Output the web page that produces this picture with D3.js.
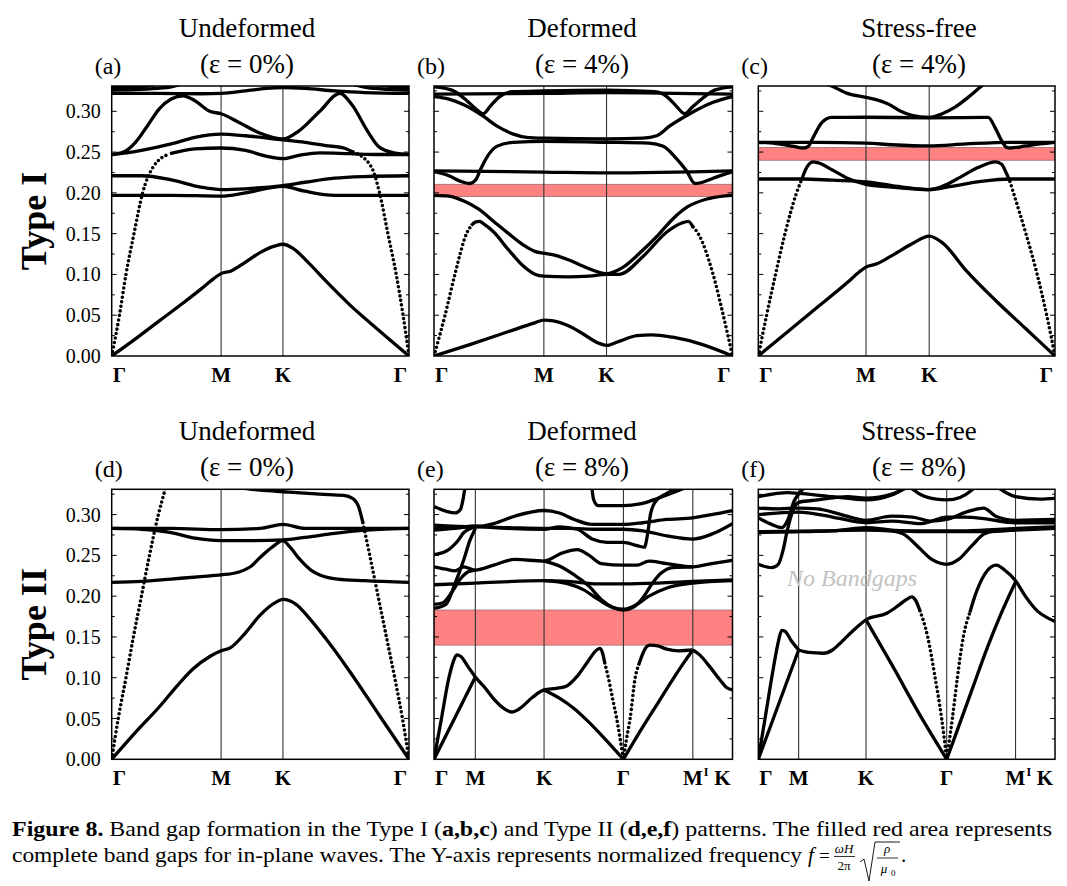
<!DOCTYPE html>
<html>
<head>
<meta charset="utf-8">
<script src="https://cdn.jsdelivr.net/npm/d3@7/dist/d3.min.js"></script>
<style>
  body { margin: 0; background: #fff; }
  text { font-family: "Liberation Serif", "DejaVu Serif", serif; fill: #000; }
</style>
</head>
<body>
<script>
// ---- labels ----
const titles = ['Undeformed', 'Deformed', 'Stress-free'];
const strainsTop = ['(ε = 0%)', '(ε = 4%)', '(ε = 4%)'];
const strainsBottom = ['(ε = 0%)', '(ε = 8%)', '(ε = 8%)'];
const letters = ['(a)', '(b)', '(c)', '(d)', '(e)', '(f)'];
const rowLabels = ['Type I', 'Type II'];
const yTicks = [0, 0.05, 0.10, 0.15, 0.20, 0.25, 0.30];
const yMinor = [0.025, 0.075, 0.125, 0.175, 0.225, 0.275, 0.325];

// k-path positions (fraction of the path) and their labels
const kA = [0, 0.368, 0.576, 1], kB = [0, 0.368, 0.578, 1], kC = [0, 0.363, 0.576, 1];
const kD = [0, 0.368, 0.576, 1];
const kE = [0, 0.1385, 0.3687, 0.6346, 0.867, 1];
const kF = [0, 0.136, 0.363, 0.635, 0.867, 1];
const kLabels3 = ['Γ', 'M', 'K', 'Γ'];
const kLabels5 = ['Γ', 'M', 'K', 'Γ', 'M′', 'K'];

// complete band gaps [low, high]
const gapB = [0.1955, 0.2105];
const gapC = [0.240, 0.2555];
const gapE = [0.140, 0.183];

// ---- bands, [k, f] ----
const bandsA = [
  [[0,0],[0.08,0.021],[0.16,0.043],[0.24,0.065],[0.3,0.082],[0.34,0.094],[0.368,0.101],[0.4,0.104],[0.45,0.115],[0.5,0.127],[0.55,0.135],[0.576,0.137],[0.61,0.132],[0.66,0.115],[0.72,0.092],[0.8,0.063],[0.9,0.031],[1,0]],
  [[0.196,0.248],[0.28,0.254],[0.368,0.255],[0.45,0.252],[0.52,0.245],[0.576,0.242],[0.63,0.246],[0.7,0.249],[0.8,0.248],[0.9,0.247],[1,0.247]],
  [[0,0.247],[0.05,0.249],[0.1,0.252],[0.2,0.26],[0.28,0.268],[0.368,0.272],[0.45,0.27],[0.576,0.265],[0.65,0.262],[0.72,0.258],[0.78,0.255],[0.812,0.25]],
  [[0,0.247],[0.04,0.25],[0.08,0.262],[0.12,0.282],[0.16,0.303],[0.2,0.315],[0.24,0.319],[0.28,0.313],[0.33,0.3],[0.368,0.297],[0.43,0.286],[0.5,0.273],[0.576,0.266],[0.63,0.276],[0.7,0.3],[0.767,0.322],[0.81,0.307],[0.86,0.276],[0.9,0.256],[0.95,0.249],[1,0.247]],
  [[0,0.221],[0.1,0.221],[0.2,0.216],[0.3,0.207],[0.368,0.204],[0.45,0.205],[0.576,0.209],[0.65,0.213],[0.75,0.218],[0.85,0.22],[1,0.221]],
  [[0,0.197],[0.2,0.197],[0.368,0.196],[0.45,0.2],[0.576,0.208],[0.65,0.202],[0.75,0.197],[1,0.197]],
  [[0,0.322],[0.15,0.322],[0.3,0.3215],[0.368,0.322],[0.45,0.325],[0.52,0.328],[0.576,0.329],[0.65,0.328],[0.75,0.325],[0.85,0.323],[1,0.322]],
  [[0,0.326],[0.08,0.3265],[0.15,0.328],[0.2,0.33],[0.24,0.334]],
  [[0.8,0.334],[0.86,0.329],[0.93,0.327],[1,0.326]],
  [[0,0.329],[0.1,0.33],[0.15,0.333]],
  [[0.88,0.333],[0.95,0.33],[1,0.329]]
];
const dotsA = [
  [[0,0],[0.026,0.05],[0.048,0.1],[0.075,0.15],[0.104,0.2],[0.14,0.232],[0.196,0.248]],
  [[0.812,0.25],[0.873,0.232],[0.901,0.2],[0.929,0.15],[0.957,0.1],[0.98,0.05],[1,0]]
];

const bandsB = [
  [[0,0],[0.12,0.014],[0.25,0.03],[0.34,0.041],[0.368,0.044],[0.4,0.043],[0.45,0.037],[0.5,0.027],[0.55,0.016],[0.578,0.013],[0.62,0.018],[0.68,0.025],[0.73,0.026],[0.8,0.023],[0.9,0.014],[1,0]],
  [[0.125,0.16],[0.14,0.1645],[0.152,0.165],[0.17,0.161],[0.2,0.152],[0.25,0.13],[0.3,0.11],[0.34,0.1],[0.368,0.098],[0.45,0.097],[0.52,0.098],[0.578,0.1],[0.62,0.1],[0.7,0.122],[0.78,0.152],[0.83,0.163],[0.852,0.165],[0.868,0.158]],
  [[0,0.197],[0.05,0.196],[0.1,0.19],[0.15,0.18],[0.2,0.165],[0.25,0.15],[0.3,0.136],[0.34,0.128],[0.368,0.126],[0.4,0.124],[0.45,0.118],[0.5,0.11],[0.578,0.101],[0.63,0.108],[0.7,0.13],[0.75,0.148],[0.8,0.168],[0.85,0.183],[0.92,0.193],[1,0.197]],
  [[0,0.227],[0.368,0.2255],[0.578,0.2245],[1,0.227]],
  [[0,0.226],[0.05,0.221],[0.09,0.214],[0.12,0.2115],[0.14,0.216],[0.155,0.228],[0.176,0.243],[0.21,0.257],[0.266,0.262],[0.368,0.263],[0.578,0.262],[0.72,0.261],[0.768,0.257],[0.81,0.243],[0.846,0.227],[0.874,0.2115],[0.9,0.213],[0.935,0.218],[1,0.226]],
  [[0,0.318],[0.05,0.315],[0.1,0.308],[0.165,0.294],[0.21,0.282],[0.266,0.272],[0.31,0.268],[0.368,0.267],[0.578,0.266],[0.7,0.267],[0.746,0.27],[0.79,0.282],[0.857,0.297],[0.935,0.311],[1,0.318]],
  [[0,0.33],[0.06,0.326],[0.11,0.313],[0.14,0.303],[0.165,0.297],[0.19,0.307],[0.22,0.318],[0.26,0.324],[0.368,0.325],[0.578,0.326],[0.74,0.324],[0.78,0.318],[0.81,0.307],[0.84,0.297],[0.865,0.305],[0.9,0.316],[0.94,0.326],[1,0.33]],
  [[0,0.321],[0.368,0.322],[0.578,0.323],[1,0.321]]
];
const dotsB = [
  [[0,0],[0.037,0.05],[0.07,0.1],[0.109,0.15],[0.125,0.16]],
  [[0.868,0.158],[0.885,0.15],[0.935,0.1],[0.969,0.05],[1,0]]
];

const bandsC = [
  [[0,0],[0.1,0.03],[0.2,0.06],[0.3,0.09],[0.34,0.103],[0.363,0.109],[0.4,0.113],[0.45,0.123],[0.52,0.138],[0.576,0.147],[0.62,0.139],[0.7,0.105],[0.8,0.068],[0.9,0.034],[1,0]],
  [[0.146,0.216],[0.16,0.229],[0.185,0.238],[0.2,0.237],[0.25,0.228],[0.3,0.218],[0.363,0.2105],[0.45,0.207],[0.52,0.205],[0.576,0.204],[0.62,0.208],[0.68,0.219],[0.74,0.231],[0.8,0.238],[0.82,0.235],[0.835,0.225],[0.848,0.214]],
  [[0,0.217],[0.15,0.217],[0.25,0.2155],[0.363,0.2135],[0.45,0.209],[0.52,0.2055],[0.576,0.204],[0.65,0.208],[0.75,0.214],[0.85,0.217],[1,0.217]],
  [[0,0.262],[0.2,0.262],[0.363,0.261],[0.45,0.259],[0.576,0.2575],[0.7,0.26],[0.85,0.262],[1,0.262]],
  [[0,0.262],[0.06,0.2605],[0.12,0.257],[0.152,0.255],[0.1685,0.257],[0.185,0.268],[0.214,0.286],[0.247,0.2925],[0.363,0.2927],[0.576,0.292],[0.775,0.2925],[0.798,0.28],[0.82,0.264],[0.837,0.2557],[0.85,0.255],[0.9,0.2575],[0.95,0.26],[1,0.262]],
  [[0.2,0.337],[0.247,0.331],[0.3,0.322],[0.363,0.317],[0.4,0.314],[0.438,0.309],[0.48,0.3],[0.517,0.295],[0.576,0.2925],[0.62,0.297],[0.663,0.305],[0.71,0.318],[0.753,0.331],[0.78,0.338]]
];
const dotsC = [
  [[0,0],[0.028,0.05],[0.058,0.1],[0.09,0.15],[0.129,0.2],[0.146,0.216]],
  [[0.848,0.214],[0.86,0.2],[0.902,0.15],[0.94,0.1],[0.972,0.05],[1,0]]
];

const bandsD = [
  [[0,0],[0.08,0.033],[0.162,0.065],[0.22,0.09],[0.274,0.111],[0.33,0.126],[0.368,0.133],[0.4,0.137],[0.45,0.155],[0.5,0.177],[0.55,0.192],[0.576,0.196],[0.62,0.19],[0.66,0.175],[0.72,0.148],[0.8,0.108],[0.9,0.054],[1,0]],
  [[0.4,0.334],[0.5,0.33],[0.576,0.328],[0.7,0.325],[0.78,0.3235],[0.81,0.32],[0.83,0.31],[0.845,0.29]],
  [[0,0.283],[0.2,0.283],[0.368,0.2815],[0.5,0.283],[0.576,0.288],[0.65,0.283],[0.8,0.283],[1,0.283]],
  [[0,0.283],[0.1,0.282],[0.2,0.278],[0.28,0.271],[0.368,0.268],[0.45,0.268],[0.576,0.269],[0.65,0.272],[0.75,0.277],[0.85,0.281],[0.9,0.282],[1,0.283]],
  [[0,0.217],[0.1,0.218],[0.2,0.221],[0.3,0.224],[0.368,0.226],[0.431,0.23],[0.47,0.237],[0.498,0.247],[0.543,0.261],[0.576,0.268],[0.6,0.26],[0.633,0.245],[0.67,0.232],[0.7,0.226],[0.76,0.221],[0.85,0.219],[1,0.217]]
];
const dotsD = [
  [[0,0],[0.022,0.05],[0.048,0.1],[0.073,0.15],[0.1,0.2],[0.127,0.25],[0.157,0.3],[0.179,0.33],[0.19,0.345]],
  [[0.845,0.29],[0.868,0.25],[0.896,0.2],[0.924,0.15],[0.952,0.1],[0.978,0.05],[1,0]]
];

const bandsE = [
  [[0,0],[0.025,0.05],[0.05,0.1],[0.065,0.12],[0.076,0.128],[0.09,0.126],[0.115,0.113],[0.1385,0.101],[0.17,0.088],[0.2,0.074],[0.235,0.062],[0.26,0.058],[0.29,0.063],[0.33,0.076],[0.3687,0.085],[0.41,0.087],[0.445,0.09],[0.48,0.102],[0.512,0.118],[0.545,0.134],[0.556,0.136],[0.565,0.13],[0.572,0.118]],
  [[0,0],[0.07,0.051],[0.1385,0.101]],
  [[0.3687,0.085],[0.42,0.075],[0.47,0.062],[0.512,0.048],[0.56,0.03],[0.6346,0]],
  [[0.6346,0],[0.7,0.04],[0.75,0.069],[0.8,0.098],[0.84,0.12],[0.867,0.134]],
  [[0.685,0.115],[0.7,0.13],[0.712,0.138],[0.724,0.14],[0.75,0.139],[0.78,0.135],[0.82,0.133],[0.867,0.134]],
  [[0.867,0.134],[0.89,0.128],[0.925,0.113],[0.959,0.097],[0.98,0.088],[1,0.085]],
  [[0,0.31],[0.042,0.304],[0.07,0.302],[0.088,0.306],[0.097,0.318],[0.104,0.334]],
  [[0,0.287],[0.1385,0.285],[0.2,0.289],[0.27,0.298],[0.3687,0.305],[0.42,0.302],[0.47,0.294],[0.53,0.288],[0.6346,0.288],[0.7,0.29],[0.78,0.294],[0.867,0.296],[0.93,0.3],[1,0.305]],
  [[0,0.283],[0.1385,0.285],[0.25,0.284],[0.3687,0.283],[0.45,0.283],[0.55,0.282],[0.6346,0.282],[0.7,0.28],[0.78,0.274],[0.867,0.27],[0.93,0.276],[1,0.289]],
  [[0,0.281],[0.07,0.283],[0.1385,0.286],[0.2,0.284],[0.3687,0.282],[0.42,0.285],[0.48,0.282],[0.53,0.27],[0.58,0.266],[0.6346,0.266],[0.68,0.262],[0.705,0.26],[0.715,0.275],[0.725,0.3],[0.74,0.315],[0.78,0.326],[0.83,0.334]],
  [[0.528,0.336],[0.535,0.318],[0.55,0.311],[0.6346,0.311],[0.69,0.313],[0.75,0.32],[0.836,0.332]],
  [[0,0.236],[0.04,0.233],[0.07,0.231],[0.1,0.236],[0.1385,0.232],[0.2,0.238],[0.27,0.245],[0.3687,0.243],[0.43,0.253],[0.48,0.257],[0.52,0.25],[0.56,0.24],[0.6346,0.238],[0.68,0.238],[0.72,0.243],[0.78,0.24],[0.867,0.236],[0.93,0.24],[1,0.244]],
  [[0.3687,0.243],[0.42,0.237],[0.47,0.226],[0.52,0.212],[0.56,0.196],[0.6,0.186],[0.6346,0.183],[0.67,0.187],[0.7,0.198],[0.73,0.215],[0.76,0.228],[0.8,0.235],[0.867,0.236]],
  [[0,0.214],[0.1385,0.216],[0.3687,0.219],[0.45,0.218],[0.55,0.215],[0.6346,0.215],[0.75,0.216],[0.867,0.218],[1,0.22]],
  [[0.3687,0.219],[0.45,0.215],[0.5,0.208],[0.55,0.196],[0.6,0.186],[0.6346,0.184],[0.67,0.188],[0.72,0.2],[0.78,0.21],[0.867,0.216],[1,0.219]],
  [[0,0.19],[0.03,0.192],[0.06,0.205],[0.09,0.222],[0.115,0.23],[0.1385,0.232]],
  [[0,0.185],[0.04,0.19],[0.07,0.215],[0.1,0.245],[0.12,0.268],[0.1385,0.283]],
  [[0,0.251],[0.04,0.255],[0.08,0.268],[0.1,0.278],[0.1385,0.285]]
];
const dotsE = [
  [[0.572,0.118],[0.584,0.1],[0.598,0.075],[0.612,0.05],[0.625,0.022],[0.6346,0]],
  [[0.6346,0],[0.645,0.025],[0.657,0.05],[0.674,0.1],[0.685,0.115]]
];

const bandsF = [
  [[0,0],[0.025,0.055],[0.05,0.11],[0.068,0.145],[0.079,0.158],[0.09,0.157],[0.11,0.146],[0.136,0.134]],
  [[0,0],[0.07,0.069],[0.136,0.134]],
  [[0.136,0.134],[0.17,0.131],[0.219,0.13],[0.25,0.134],[0.275,0.142],[0.32,0.158],[0.363,0.171],[0.433,0.179],[0.47,0.188],[0.5,0.196],[0.517,0.199],[0.53,0.195],[0.545,0.182]],
  [[0.363,0.171],[0.45,0.116],[0.55,0.051],[0.635,0]],
  [[0.635,0],[0.68,0.045],[0.725,0.09],[0.77,0.135],[0.82,0.18],[0.867,0.2175]],
  [[0.713,0.18],[0.73,0.2],[0.76,0.225],[0.785,0.236],[0.803,0.238],[0.83,0.232],[0.867,0.219],[0.9,0.2],[0.94,0.182],[0.972,0.174],[1,0.169]],
  [[0,0.278],[0.136,0.279],[0.25,0.28],[0.363,0.284],[0.45,0.281],[0.55,0.279],[0.635,0.279],[0.75,0.279],[0.867,0.281],[1,0.283]],
  [[0,0.279],[0.2,0.28],[0.363,0.281],[0.5,0.28],[0.7,0.28],[0.867,0.283],[1,0.285]],
  [[0.4,0.281],[0.45,0.28],[0.49,0.276],[0.54,0.26],[0.585,0.245],[0.635,0.239],[0.675,0.245],[0.72,0.262],[0.76,0.276],[0.8,0.28],[0.867,0.281]],
  [[0,0.239],[0.045,0.235],[0.067,0.239],[0.084,0.257],[0.096,0.278],[0.107,0.294],[0.12,0.308],[0.136,0.315],[0.2,0.318],[0.3,0.322],[0.363,0.32],[0.45,0.325],[0.5,0.333]],
  [[0,0.296],[0.045,0.288],[0.079,0.284],[0.1,0.294],[0.12,0.316],[0.14,0.327],[0.16,0.335]],
  [[0,0.308],[0.07,0.307],[0.136,0.308],[0.2,0.307],[0.28,0.3],[0.363,0.293],[0.45,0.298],[0.52,0.297],[0.58,0.292],[0.635,0.294],[0.7,0.303],[0.76,0.308],[0.8,0.298],[0.867,0.293],[1,0.294]],
  [[0,0.3],[0.136,0.303],[0.25,0.297],[0.363,0.29],[0.45,0.292],[0.55,0.289],[0.635,0.297],[0.7,0.297],[0.76,0.295],[0.867,0.29],[1,0.29]],
  [[0,0.322],[0.1,0.327],[0.136,0.326],[0.25,0.322],[0.363,0.318],[0.45,0.324],[0.5,0.334]],
  [[0.5,0.337],[0.55,0.324],[0.6,0.319],[0.635,0.318],[0.68,0.321],[0.72,0.33],[0.74,0.337]],
  [[0.8,0.335],[0.867,0.322],[0.95,0.319],[1,0.32]]
];
const dotsF = [
  [[0.545,0.182],[0.571,0.15],[0.596,0.1],[0.618,0.05],[0.635,0]],
  [[0.635,0],[0.654,0.05],[0.671,0.1],[0.691,0.15],[0.713,0.18]]
];

// ---- layout ----
const W = 1067, H = 886;
const cols = [[111.7, 409], [434, 732.5], [758.3, 1055]];
const rowBottom = [356, 759.3];
const plotH = 270;

const svg = d3.select('body').append('svg').attr('width', W).attr('height', H);

const panels = [
  { col: 0, row: 0, k: kA, labels: kLabels3, bands: bandsA, dots: dotsA, gap: null },
  { col: 1, row: 0, k: kB, labels: kLabels3, bands: bandsB, dots: dotsB, gap: gapB },
  { col: 2, row: 0, k: kC, labels: kLabels3, bands: bandsC, dots: dotsC, gap: gapC },
  { col: 0, row: 1, k: kD, labels: kLabels3, bands: bandsD, dots: dotsD, gap: null },
  { col: 1, row: 1, k: kE, labels: kLabels5, bands: bandsE, dots: dotsE, gap: gapE },
  { col: 2, row: 1, k: kF, labels: kLabels5, bands: bandsF, dots: dotsF, gap: null }
];

panels.forEach((p, i) => {
  const [x0, x1] = cols[p.col];
  const yb = rowBottom[p.row];
  const x = d3.scaleLinear().domain([0, 1]).range([x0, x1]);
  const y = d3.scaleLinear().domain([0, 0.331]).range([yb, yb - plotH]);

  const g = svg.append('g');
  const clipId = 'clip' + i;
  g.append('clipPath').attr('id', clipId)
    .append('rect').attr('x', x0).attr('y', yb - plotH).attr('width', x1 - x0).attr('height', plotH);
  const inner = g.append('g').attr('clip-path', `url(#${clipId})`);

  // band gap
  if (p.gap) {
    inner.append('rect')
      .attr('x', x0).attr('width', x1 - x0)
      .attr('y', y(p.gap[1])).attr('height', y(p.gap[0]) - y(p.gap[1]))
      .attr('fill', '#ff8282').attr('stroke', '#9a6a6a').attr('stroke-width', 0.8);
  }

  // high-symmetry lines
  inner.selectAll('line.k').data(p.k.slice(1, -1)).enter().append('line')
    .attr('x1', (d) => x(d)).attr('x2', (d) => x(d))
    .attr('y1', yb).attr('y2', yb - plotH)
    .attr('stroke', '#333').attr('stroke-width', 1.1);

  const line = d3.line()
    .x((d) => x(d[0]))
    .y((d) => y(d[1]))
    .curve(d3.curveMonotoneX);

  inner.selectAll('path.band').data(p.bands).enter().append('path')
    .attr('class', 'band')
    .attr('d', line)
    .attr('fill', 'none').attr('stroke', '#000')
    .attr('stroke-width', 3.3).attr('stroke-linejoin', 'round');

  inner.selectAll('path.dots').data(p.dots).enter().append('path')
    .attr('class', 'dots')
    .attr('d', line)
    .attr('fill', 'none').attr('stroke', '#000')
    .attr('stroke-width', 3.6).attr('stroke-linecap', 'round')
    .attr('stroke-dasharray', '0 4.6');

  // frame
  g.append('rect').attr('x', x0).attr('y', yb - plotH)
    .attr('width', x1 - x0).attr('height', plotH)
    .attr('fill', 'none').attr('stroke', '#000').attr('stroke-width', 1.5);

  // inward ticks, both sides
  const tick = (vals, len) => {
    g.selectAll(null).data(vals).enter().append('line')
      .attr('x1', x0).attr('x2', x0 + len)
      .attr('y1', (d) => y(d)).attr('y2', (d) => y(d))
      .attr('stroke', '#000').attr('stroke-width', 1);
    g.selectAll(null).data(vals).enter().append('line')
      .attr('x1', x1).attr('x2', x1 - len)
      .attr('y1', (d) => y(d)).attr('y2', (d) => y(d))
      .attr('stroke', '#000').attr('stroke-width', 1);
  };
  tick(yTicks.slice(1), 5);
  tick(yMinor, 3);

  if (p.col === 0) {
    g.selectAll('text.yt').data(yTicks).enter().append('text')
      .attr('x', x0 - 11).attr('y', (d) => y(d)).attr('dy', '0.35em')
      .attr('text-anchor', 'end').attr('font-size', 20)
      .text((d) => d.toFixed(2));
  }

  // k-point labels
  p.k.forEach((kv, j) => {
    const last = j === p.k.length - 1;
    const lx = j === 0 ? x0 + 1 : last ? x1 - 2 : x(kv);
    const anchor = j === 0 ? 'start' : last ? 'end' : 'middle';
    const lab = p.labels[j];
    const ty = yb + 26;
    if (lab.endsWith('′')) {
      g.append('text').attr('x', lx).attr('y', ty).attr('text-anchor', 'middle')
        .attr('font-size', 21).attr('font-weight', 'bold').text(lab[0]);
      g.append('text').attr('x', lx + 11).attr('y', ty - 9).attr('text-anchor', 'start')
        .attr('font-size', 12).attr('font-weight', 'bold').text('I');
    } else {
      g.append('text').attr('x', lx).attr('y', ty).attr('text-anchor', anchor)
        .attr('font-size', 21).attr('font-weight', 'bold').text(lab);
    }
  });

  // panel letter
  g.append('text').attr('x', x0 - 17).attr('y', yb - plotH - 12)
    .attr('font-size', 24).text(letters[i]);

  if (i === 5) {
    g.append('text').attr('x', x(0.097)).attr('y', y(0.212))
      .attr('font-size', 24).attr('font-style', 'italic').style('fill', '#c2c2c2')
      .text('No Bandgaps');
  }
});

// column titles
const titleX = [247, 582, 919];
[0, 1].forEach((r) => {
  const top = rowBottom[r] - plotH;
  const strains = r === 0 ? strainsTop : strainsBottom;
  titles.forEach((t, c) => {
    svg.append('text').attr('x', titleX[c]).attr('y', top - 49)
      .attr('text-anchor', 'middle').attr('font-size', 27).text(t);
    svg.append('text').attr('x', titleX[c]).attr('y', top - 13)
      .attr('text-anchor', 'middle').attr('font-size', 27).text(strains[c]);
  });
  svg.append('text')
    .attr('transform', `translate(46, ${rowBottom[r] - plotH / 2}) rotate(-90)`)
    .attr('text-anchor', 'middle').attr('font-size', 36).attr('font-weight', 'bold')
    .text(rowLabels[r]);
});

// caption
const cap1 = svg.append('text').attr('x', 12).attr('y', 836).attr('font-size', 21)
  .attr('textLength', 1040).attr('lengthAdjust', 'spacingAndGlyphs');
cap1.append('tspan').attr('font-weight', 'bold').text('Figure 8.');
cap1.append('tspan').text('  Band gap formation in the Type I (');
cap1.append('tspan').attr('font-weight', 'bold').text('a,b,c');
cap1.append('tspan').text(') and Type II (');
cap1.append('tspan').attr('font-weight', 'bold').text('d,e,f');
cap1.append('tspan').text(') patterns. The filled red area represents');

svg.append('text').attr('x', 12).attr('y', 862).attr('font-size', 21)
  .attr('textLength', 790).attr('lengthAdjust', 'spacingAndGlyphs')
  .text('complete band gaps for in-plane waves. The Y-axis represents normalized frequency');

// formula f = ωH/2π sqrt(ρ/μ0)
const fm = svg.append('g');
fm.append('text').attr('x', 808).attr('y', 862).attr('font-size', 21).attr('font-style', 'italic').text('f');
fm.append('text').attr('x', 819).attr('y', 862).attr('font-size', 19).text('=');
fm.append('text').attr('x', 844).attr('y', 853).attr('font-size', 13).attr('font-style', 'italic')
  .attr('text-anchor', 'middle').text('ωH');
fm.append('line').attr('x1', 834).attr('x2', 855).attr('y1', 856.5).attr('y2', 856.5).attr('stroke', '#000').attr('stroke-width', 0.8);
fm.append('text').attr('x', 844).attr('y', 870).attr('font-size', 13)
  .attr('text-anchor', 'middle').text('2π');
fm.append('path').attr('d', 'M860,862 L864,859 L869,881 L875,842 L900,842')
  .attr('fill', 'none').attr('stroke', '#000').attr('stroke-width', 0.9);
fm.append('text').attr('x', 887).attr('y', 853).attr('font-size', 13).attr('font-style', 'italic')
  .attr('text-anchor', 'middle').text('ρ');
fm.append('line').attr('x1', 877).attr('x2', 898).attr('y1', 858).attr('y2', 858).attr('stroke', '#000').attr('stroke-width', 0.8);
fm.append('text').attr('x', 884).attr('y', 873).attr('font-size', 13).attr('font-style', 'italic')
  .attr('text-anchor', 'middle').text('μ');
fm.append('text').attr('x', 891).attr('y', 876).attr('font-size', 9).text('0');
fm.append('text').attr('x', 901).attr('y', 862).attr('font-size', 21).text('.');
</script>
</body>
</html>
